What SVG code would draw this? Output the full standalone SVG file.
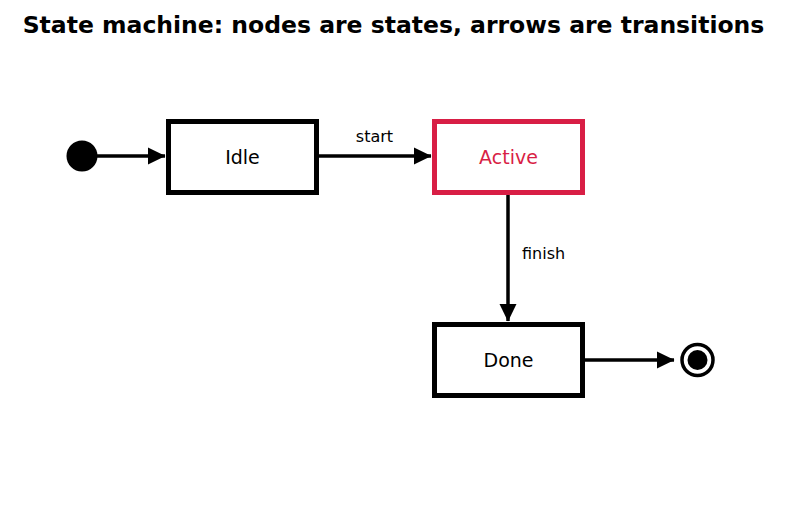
<svg xmlns="http://www.w3.org/2000/svg" width="787" height="510" viewBox="0 0 787 510">
<defs>
<marker id="ah" markerWidth="18" markerHeight="18" refX="17" refY="9" orient="auto" markerUnits="userSpaceOnUse">
<path d="M0,0.5 L17.5,9 L0,17.5 Z" fill="#000"/>
</marker>
<style>
.title{font-family:"DejaVu Sans",sans-serif;font-weight:bold;font-size:23.5px;fill:#000}
.box{fill:#fff;stroke:#000;stroke-width:5}
.lbl{font-family:"DejaVu Sans",sans-serif;font-size:19px;fill:#000;text-anchor:middle;dominant-baseline:central}
.elbl{font-family:"DejaVu Sans",sans-serif;font-size:16px;fill:#000}
.edge{stroke:#000;stroke-width:3.5;fill:none;marker-end:url(#ah)}
</style>
</defs>
<rect width="787" height="510" fill="#fff"/>
<text class="title" x="393.5" y="33" text-anchor="middle">State machine: nodes are states, arrows are transitions</text>
<g id="connectors">
<line class="edge" x1="97" y1="156" x2="165" y2="156"/>
<line class="edge" x1="319" y1="156" x2="431" y2="156"/>
<text class="elbl" x="374.5" y="142" text-anchor="middle">start</text>
<line class="edge" x1="508" y1="194" x2="508" y2="321"/>
<text class="elbl" x="522" y="259">finish</text>
<line class="edge" x1="585" y1="360" x2="674" y2="360"/>
</g>
<g id="start">
<circle cx="82" cy="156" r="15.5" fill="#000"/>
</g>
<g id="idle">
<rect class="box" x="168.5" y="121.5" width="148" height="71"/>
<text class="lbl" x="242.5" y="156.5">Idle</text>
</g>
<g id="active">
<rect class="box" x="434.5" y="121.5" width="148" height="71" style="stroke:#d81e45"/>
<text class="lbl" x="508.5" y="156.5" style="fill:#d81e45">Active</text>
</g>
<g id="done">
<rect class="box" x="434.5" y="324.5" width="148" height="71"/>
<text class="lbl" x="508.5" y="360">Done</text>
</g>
<g id="end">
<circle cx="697.5" cy="360" r="15.5" fill="#fff" stroke="#000" stroke-width="3.5"/>
<circle cx="697.5" cy="360" r="10" fill="#000"/>
</g>
</svg>
